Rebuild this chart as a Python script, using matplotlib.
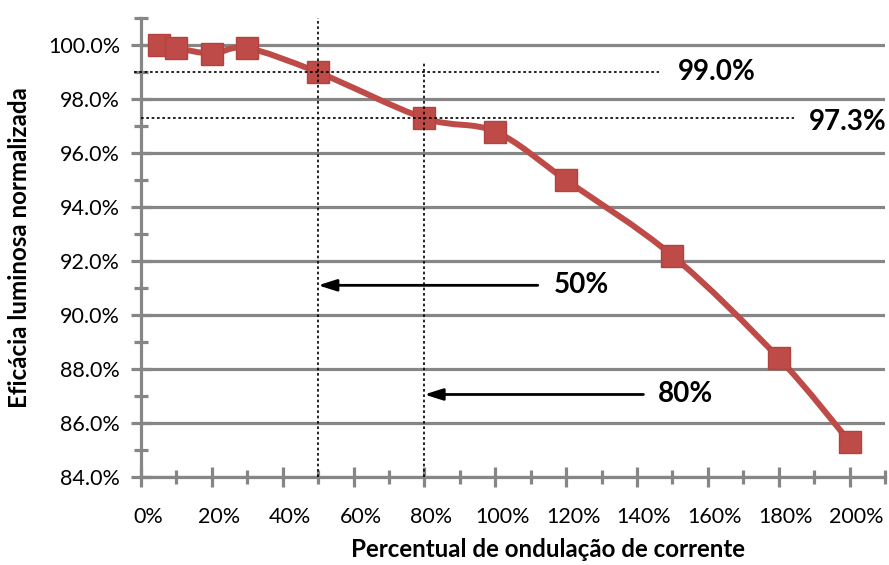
import matplotlib
matplotlib.use("Agg")
import matplotlib.pyplot as plt
import matplotlib.transforms as mtransforms
from matplotlib.path import Path
from matplotlib.patches import PathPatch
from matplotlib.ticker import MultipleLocator, FuncFormatter

# ---- data ----
ripple_pct = [5, 10, 20, 30, 50, 80, 100, 120, 150, 180, 200]
efficacy_pct = [100.0, 99.9, 99.7, 99.9, 99.0, 97.3, 96.8, 95.0, 92.2, 88.4, 85.3]
x_label = "Percentual de ondulação de corrente"
y_label = "Eficácia luminosa normalizada"
ref_levels = [99.0, 97.3]
ref_level_labels = ["99.0%", "97.3%"]
ref_ripples = [50, 80]
ref_ripple_labels = ["50%", "80%"]

FONT = ["Lato", "DejaVu Sans"]
plt.rcParams["font.family"] = FONT

RED = "#BE4B48"
GRID = "#868686"

fig = plt.figure(figsize=(8.89, 5.65), dpi=100)
ax = fig.add_axes([0.1586, 0.1563, 0.8369, 0.811])

ax.set_xlim(0, 210)
ax.set_ylim(84, 101)

# smooth curve (cubic Bezier through points, Catmull-Rom style control points)
pts = list(zip(ripple_pct, efficacy_pct))
verts = [pts[0]]
codes = [Path.MOVETO]
n = len(pts)
for i in range(n - 1):
    p0 = pts[i - 1] if i > 0 else pts[i]
    p1 = pts[i]
    p2 = pts[i + 1]
    p3 = pts[i + 2] if i + 2 < n else pts[i + 1]
    c1 = (p1[0] + (p2[0] - p0[0]) / 6.0, p1[1] + (p2[1] - p0[1]) / 6.0)
    c2 = (p2[0] - (p3[0] - p1[0]) / 6.0, p2[1] - (p3[1] - p1[1]) / 6.0)
    verts += [c1, c2, p2]
    codes += [Path.CURVE4] * 3
ax.add_patch(PathPatch(Path(verts, codes), facecolor="none", edgecolor=RED,
                       lw=4.3, capstyle="round", joinstyle="round", zorder=4))
ax.plot(ripple_pct, efficacy_pct, ls="none", marker="s", ms=15.5,
        mfc=RED, mec="#B3413E", mew=1, zorder=5)

# grid and axes
ax.set_axisbelow(True)
ax.yaxis.set_major_locator(MultipleLocator(2))
ax.yaxis.set_minor_locator(MultipleLocator(1))
ax.xaxis.set_major_locator(MultipleLocator(20))
ax.xaxis.set_minor_locator(MultipleLocator(10))
ax.grid(axis="y", which="major", color=GRID, lw=2.3)
ax.yaxis.set_major_formatter(FuncFormatter(lambda v, p: f"{v:.1f}%"))
ax.xaxis.set_major_formatter(FuncFormatter(lambda v, p: f"{v:.0f}%" if v <= 200 else ""))
for s in ["top", "right"]:
    ax.spines[s].set_visible(False)
for s in ["left", "bottom"]:
    ax.spines[s].set_color(GRID)
    ax.spines[s].set_linewidth(2.3)
ax.tick_params(axis="both", which="major", direction="inout", length=14, width=2.3,
               color=GRID, labelsize=15.5, labelcolor="black")
ax.tick_params(axis="both", which="minor", direction="inout", length=10, width=2.3,
               color=GRID)
ax.tick_params(axis="y", which="major", pad=8)
ax.tick_params(axis="x", which="major", pad=15)
off = mtransforms.ScaledTranslation(7 / 100, 0, fig.dpi_scale_trans)
for lab in ax.get_xticklabels():
    lab.set_transform(lab.get_transform() + off)

ax.set_xlabel(x_label, fontsize=17.4, fontweight="bold")
ax.xaxis.set_label_coords(0.547, -0.134)
ax.set_ylabel(y_label, fontsize=17.4, fontweight="bold", labelpad=12)

# reference dotted lines
dot = (0, (1.6, 1.6))
ax.plot([ref_ripples[0], ref_ripples[0]], [84, 101], color="black", lw=1.2, ls=dot, zorder=6, clip_on=False)
ax.plot([ref_ripples[1], ref_ripples[1]], [84, 99.4], color="black", lw=1.2, ls=dot, zorder=6)
ax.plot([-2, 146.3], [ref_levels[0]] * 2, color="black", lw=1.2, ls=dot, zorder=6, clip_on=False)
ax.plot([0, 184.2], [ref_levels[1]] * 2, color="black", lw=1.2, ls=dot, zorder=6)

ax.text(151.4, ref_levels[0], ref_level_labels[0], fontsize=20, fontweight="bold",
        ha="left", va="center", zorder=7)
ax.text(188.5, 97.15, ref_level_labels[1], fontsize=20, fontweight="bold",
        ha="left", va="center", zorder=7, clip_on=False)

# arrows
arrow_y = [91.1, 87.05]
arrow_start = [112.0, 141.8]
text_x = [116.4, 146.0]
for xr, ya, xs, xt, lab in zip(ref_ripples, arrow_y, arrow_start, text_x, ref_ripple_labels):
    ax.annotate("", xy=(xr, ya), xytext=(xs, ya),
                arrowprops=dict(arrowstyle="-|>,head_length=1.1,head_width=0.35",
                                color="black", lw=2, shrinkA=0, shrinkB=0), zorder=7)
    ax.text(xt, ya, lab, fontsize=20, fontweight="bold", ha="left", va="center", zorder=7)

fig.savefig("out.png", dpi=100)
